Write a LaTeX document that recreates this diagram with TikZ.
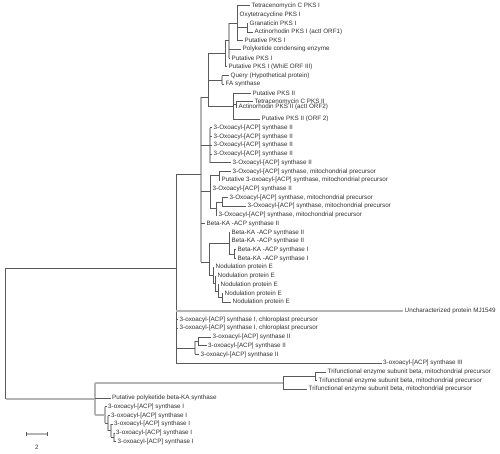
\documentclass[tikz,border=0pt]{standalone}
\usepackage{fontspec}
\setmainfont{Liberation Sans}
\definecolor{dkc}{HTML}{5A5A5A}
\definecolor{ltc}{HTML}{B4B4B4}
\definecolor{txc}{HTML}{303030}
\newcommand\lblf{\fontsize{6.3}{7}\selectfont}
\newcommand\tbr[3]{\draw[#1] (#2 |- #3) -- (#3);}
\newcommand\tvt[4]{\draw[#1] (#2 |- #3) -- (#2 |- #4);}
\begin{document}
\begin{tikzpicture}[x=1pt,y=-1pt,
  dk/.style={draw=dkc,line width=0.8pt},
  lt/.style={draw=ltc,line width=1.5pt},
  lab/.style={anchor=west,inner sep=0pt,font=\lblf,text=txc}]
\useasboundingbox (0,0) rectangle (500,453);
% internal nodes
\coordinate (root) at (5.7,334);
\coordinate (V1) at (176,268);
\coordinate (V4) at (201,174);
\coordinate (P) at (208,97);
\coordinate (W) at (225,53.6);
\coordinate (Q1) at (229,40.5);
\coordinate (A) at (237,23);
\coordinate (G) at (247,27.5);
\coordinate (QF) at (222,80);
\coordinate (P2) at (233,106.7);
\coordinate (P3) at (236,104.3);
\coordinate (B) at (210,145);
\coordinate (C) at (210,191);
\coordinate (D) at (219,175.8);
\coordinate (E) at (216,208.4);
\coordinate (F) at (222,201.9);
\coordinate (BN) at (209,262);
\coordinate (K) at (229,243.3);
\coordinate (K2) at (234,254.2);
\coordinate (N1) at (213,275.5);
\coordinate (N2) at (215,283.6);
\coordinate (N3) at (218,291.2);
\coordinate (N4) at (222,297.8);
\coordinate (IIa) at (195,347.9);
\coordinate (IIb) at (198,341.4);
\coordinate (V2) at (95,398.9);
\coordinate (T) at (283,382.8);
\coordinate (S) at (315,376.3);
\coordinate (L1) at (105,414.9);
\coordinate (L2) at (108,423.1);
\coordinate (L3) at (111,430.7);
\coordinate (L4) at (114,437.3);
% leaves
\coordinate (l1) at (250,5.7);
\coordinate (l2) at (238,14.4);
\coordinate (l3) at (248,23.1);
\coordinate (l4) at (253,31.9);
\coordinate (l5) at (243,40.6);
\coordinate (l6) at (241,49.3);
\coordinate (l7) at (230,58.0);
\coordinate (l8) at (227,66.7);
\coordinate (l9) at (229,75.5);
\coordinate (l10) at (224,84.2);
\coordinate (l11) at (251,92.9);
\coordinate (l12) at (253,101.6);
\coordinate (l13) at (237,107.0);
\coordinate (l14) at (260,119.1);
\coordinate (l15) at (212,127.8);
\coordinate (l16) at (212,136.5);
\coordinate (l17) at (212,145.2);
\coordinate (l18) at (212,153.9);
\coordinate (l19) at (231,162.7);
\coordinate (l20) at (231,171.4);
\coordinate (l21) at (220,180.1);
\coordinate (l22) at (211,188.8);
\coordinate (l23) at (228,197.5);
\coordinate (l24) at (246,206.2);
\coordinate (l25) at (217,214.9);
\coordinate (l26) at (205,223.7);
\coordinate (l27) at (230,232.4);
\coordinate (l28) at (230,241.1);
\coordinate (l29) at (236,249.8);
\coordinate (l30) at (236,258.5);
\coordinate (l31) at (214,267.3);
\coordinate (l32) at (216,276.0);
\coordinate (l33) at (219,284.7);
\coordinate (l34) at (223,293.4);
\coordinate (l35) at (231,302.1);
\coordinate (l36) at (403,310.9);
\coordinate (l37) at (178,319.6);
\coordinate (l38) at (178,328.3);
\coordinate (l39) at (211,337.0);
\coordinate (l40) at (206.5,345.7);
\coordinate (l41) at (199,354.4);
\coordinate (l42) at (381.5,363.2);
\coordinate (l43) at (326,371.9);
\coordinate (l44) at (317,380.6);
\coordinate (l45) at (307,389.3);
\coordinate (l46) at (110.5,398.0);
\coordinate (l47) at (106.5,406.7);
\coordinate (l48) at (109.5,415.5);
\coordinate (l49) at (112.5,424.2);
\coordinate (l50) at (114.5,432.9);
\coordinate (l51) at (116,441.6);
% labels
\node[lab] (t1) at ([xshift=1.5pt]l1) {Tetracenomycin C PKS I};
\node[lab] (t2) at ([xshift=1.5pt]l2) {Oxytetracycline PKS I};
\node[lab] (t3) at ([xshift=1.5pt]l3) {Granaticin PKS I};
\node[lab] (t4) at ([xshift=1.5pt]l4) {Actinorhodin PKS I (actI ORF1)};
\node[lab] (t5) at ([xshift=1.5pt]l5) {Putative PKS I};
\node[lab] (t6) at ([xshift=1.5pt]l6) {Polyketide condensing enzyme};
\node[lab] (t7) at ([xshift=1.5pt]l7) {Putative PKS I};
\node[lab] (t8) at ([xshift=1.5pt]l8) {Putative PKS I (WhiE ORF III)};
\node[lab] (t9) at ([xshift=1.5pt]l9) {Query (Hypothetical protein)};
\node[lab] (t10) at ([xshift=1.5pt]l10) {FA synthase};
\node[lab] (t11) at ([xshift=1.5pt]l11) {Putative PKS II};
\node[lab] (t12) at ([xshift=1.5pt]l12) {Tetracenomycin C PKS II};
\node[lab] (t13) at ([xshift=1.5pt]l13) {Actinorhodin PKS II (actI ORF2)};
\node[lab] (t14) at ([xshift=1.5pt]l14) {Putative PKS II (ORF 2)};
\node[lab] (t15) at ([xshift=1.5pt]l15) {3-Oxoacyl-[ACP] synthase II};
\node[lab] (t16) at ([xshift=1.5pt]l16) {3-Oxoacyl-[ACP] synthase II};
\node[lab] (t17) at ([xshift=1.5pt]l17) {3-Oxoacyl-[ACP] synthase II};
\node[lab] (t18) at ([xshift=1.5pt]l18) {3-Oxoacyl-[ACP] synthase II};
\node[lab] (t19) at ([xshift=1.5pt]l19) {3-Oxoacyl-[ACP] synthase II};
\node[lab] (t20) at ([xshift=1.5pt]l20) {3-Oxoacyl-[ACP] synthase, mitochondrial precursor};
\node[lab] (t21) at ([xshift=1.5pt]l21) {Putative 3-oxoacyl-[ACP] synthase, mitochondrial precursor};
\node[lab] (t22) at ([xshift=1.5pt]l22) {3-Oxoacyl-[ACP] synthase II};
\node[lab] (t23) at ([xshift=1.5pt]l23) {3-Oxoacyl-[ACP] synthase, mitochondrial precursor};
\node[lab] (t24) at ([xshift=1.5pt]l24) {3-Oxoacyl-[ACP] synthase, mitochondrial precursor};
\node[lab] (t25) at ([xshift=1.5pt]l25) {3-Oxoacyl-[ACP] synthase, mitochondrial precursor};
\node[lab] (t26) at ([xshift=1.5pt]l26) {Beta-KA -ACP synthase II};
\node[lab] (t27) at ([xshift=1.5pt]l27) {Beta-KA -ACP synthase II};
\node[lab] (t28) at ([xshift=1.5pt]l28) {Beta-KA -ACP synthase II};
\node[lab] (t29) at ([xshift=1.5pt]l29) {Beta-KA -ACP synthase I};
\node[lab] (t30) at ([xshift=1.5pt]l30) {Beta-KA -ACP synthase I};
\node[lab] (t31) at ([xshift=1.5pt]l31) {Nodulation protein E};
\node[lab] (t32) at ([xshift=1.5pt]l32) {Nodulation protein E};
\node[lab] (t33) at ([xshift=1.5pt]l33) {Nodulation protein E};
\node[lab] (t34) at ([xshift=1.5pt]l34) {Nodulation protein E};
\node[lab] (t35) at ([xshift=1.5pt]l35) {Nodulation protein E};
\node[lab] (t36) at ([xshift=1.5pt]l36) {Uncharacterized protein MJ1549};
\node[lab] (t37) at ([xshift=1.5pt]l37) {3-oxoacyl-[ACP] synthase I, chloroplast precursor};
\node[lab] (t38) at ([xshift=1.5pt]l38) {3-oxoacyl-[ACP] synthase I, chloroplast precursor};
\node[lab] (t39) at ([xshift=1.5pt]l39) {3-oxoacyl-[ACP] synthase II};
\node[lab] (t40) at ([xshift=1.5pt]l40) {3-oxoacyl-[ACP] synthase II};
\node[lab] (t41) at ([xshift=1.5pt]l41) {3-oxoacyl-[ACP] synthase II};
\node[lab] (t42) at ([xshift=1.5pt]l42) {3-oxoacyl-[ACP] synthase III};
\node[lab] (t43) at ([xshift=1.5pt]l43) {Trifunctional enzyme subunit beta, mitochondrial precursor};
\node[lab] (t44) at ([xshift=1.5pt]l44) {Trifunctional enzyme subunit beta, mitochondrial precursor};
\node[lab] (t45) at ([xshift=1.5pt]l45) {Trifunctional enzyme subunit beta, mitochondrial precursor};
\node[lab] (t46) at ([xshift=1.5pt]l46) {Putative polyketide beta-KA synthase};
\node[lab] (t47) at ([xshift=1.5pt]l47) {3-oxoacyl-[ACP] synthase I};
\node[lab] (t48) at ([xshift=1.5pt]l48) {3-oxoacyl-[ACP] synthase I};
\node[lab] (t49) at ([xshift=1.5pt]l49) {3-oxoacyl-[ACP] synthase I};
\node[lab] (t50) at ([xshift=1.5pt]l50) {3-oxoacyl-[ACP] synthase I};
\node[lab] (t51) at ([xshift=1.5pt]l51) {3-oxoacyl-[ACP] synthase I};
% verticals
\tvt{dk}{root}{V1}{V2}
\tvt{dk}{V1}{V4}{l42}
\tvt{lt}{V4}{P}{BN}
\tvt{dk}{P}{W}{P2}
\tvt{dk}{W}{Q1}{l8}
\tvt{lt}{Q1}{A}{l7}
\tvt{dk}{A}{l1}{l5}
\tvt{dk}{G}{l3}{l4}
\tvt{lt}{QF}{l9}{l10}
\tvt{dk}{P2}{l11}{l14}
\tvt{dk}{P3}{l12}{l13}
\tvt{lt}{B}{l15}{l19}
\tvt{dk}{C}{D}{E}
\tvt{dk}{D}{l20}{l21}
\tvt{dk}{E}{F}{l25}
\tvt{dk}{F}{l23}{l24}
\tvt{dk}{BN}{K}{N1}
\tvt{dk}{K}{l27}{K2}
\tvt{dk}{K2}{l29}{l30}
\tvt{dk}{N1}{l31}{N2}
\tvt{dk}{N2}{l32}{N3}
\tvt{dk}{N3}{l33}{N4}
\tvt{dk}{N4}{l34}{l35}
\tvt{lt}{IIa}{IIb}{l41}
\tvt{dk}{IIb}{l39}{l40}
\tvt{lt}{V2}{T}{L1}
\tvt{dk}{T}{S}{l45}
\tvt{dk}{S}{l43}{l44}
\tvt{lt}{L1}{l47}{L2}
\tvt{lt}{L2}{l48}{L3}
\tvt{lt}{L3}{l49}{L4}
\tvt{lt}{L4}{l50}{l51}
% horizontal branches
\tbr{dk}{root}{V1}
\tbr{lt}{root}{V2}
\tbr{dk}{V1}{V4}
\tbr{lt}{V1}{l36}
\tbr{dk}{V1}{l37}
\tbr{dk}{V1}{l38}
\tbr{dk}{V1}{IIa}
\tbr{dk}{V1}{l42}
\tbr{dk}{V4}{P}
\tbr{dk}{V4}{B}
\tbr{dk}{V4}{C}
\tbr{dk}{V4}{l26}
\tbr{dk}{V4}{BN}
\tbr{dk}{P}{W}
\tbr{dk}{P}{QF}
\tbr{dk}{P}{P2}
\tbr{dk}{W}{Q1}
\tbr{dk}{W}{l8}
\tbr{dk}{Q1}{A}
\tbr{dk}{Q1}{l6}
\tbr{dk}{Q1}{l7}
\tbr{dk}{A}{l1}
\tbr{dk}{A}{l2}
\tbr{dk}{A}{G}
\tbr{dk}{A}{l5}
\tbr{dk}{G}{l3}
\tbr{dk}{G}{l4}
\tbr{dk}{QF}{l9}
\tbr{dk}{QF}{l10}
\tbr{dk}{P2}{l11}
\tbr{dk}{P2}{P3}
\tbr{dk}{P2}{l14}
\tbr{dk}{P3}{l12}
\tbr{dk}{P3}{l13}
\tbr{dk}{B}{l15}
\tbr{dk}{B}{l16}
\tbr{dk}{B}{l17}
\tbr{dk}{B}{l18}
\tbr{dk}{B}{l19}
\tbr{dk}{C}{D}
\tbr{dk}{C}{l22}
\tbr{dk}{C}{E}
\tbr{dk}{D}{l20}
\tbr{dk}{D}{l21}
\tbr{dk}{E}{F}
\tbr{dk}{E}{l25}
\tbr{dk}{F}{l23}
\tbr{dk}{F}{l24}
\tbr{dk}{BN}{K}
\tbr{dk}{BN}{N1}
\tbr{dk}{K}{l27}
\tbr{dk}{K}{l28}
\tbr{dk}{K}{K2}
\tbr{dk}{K2}{l29}
\tbr{dk}{K2}{l30}
\tbr{dk}{N1}{l31}
\tbr{dk}{N1}{N2}
\tbr{dk}{N2}{l32}
\tbr{dk}{N2}{N3}
\tbr{dk}{N3}{l33}
\tbr{dk}{N3}{N4}
\tbr{dk}{N4}{l34}
\tbr{dk}{N4}{l35}
\tbr{dk}{IIa}{IIb}
\tbr{dk}{IIa}{l41}
\tbr{dk}{IIb}{l39}
\tbr{dk}{IIb}{l40}
\tbr{lt}{V2}{T}
\tbr{dk}{V2}{l46}
\tbr{lt}{V2}{L1}
\tbr{dk}{T}{S}
\tbr{dk}{T}{l45}
\tbr{dk}{S}{l43}
\tbr{dk}{S}{l44}
\tbr{dk}{L1}{l47}
\tbr{dk}{L1}{L2}
\tbr{dk}{L2}{l48}
\tbr{dk}{L2}{L3}
\tbr{dk}{L3}{l49}
\tbr{dk}{L3}{L4}
\tbr{dk}{L4}{l50}
\tbr{dk}{L4}{l51}
% scale bar
\coordinate (sb1) at (26,434);
\coordinate (sb2) at (47,434);
\draw[lt] (sb1) -- (sb2);
\draw[dk] ([yshift=-2pt]sb1) -- ([yshift=2pt]sb1);
\draw[dk] ([yshift=-2pt]sb2) -- ([yshift=2pt]sb2);
\node[font=\lblf,text=txc,inner sep=0pt] (sbl) at (37,447) {2};
\end{tikzpicture}
\end{document}
